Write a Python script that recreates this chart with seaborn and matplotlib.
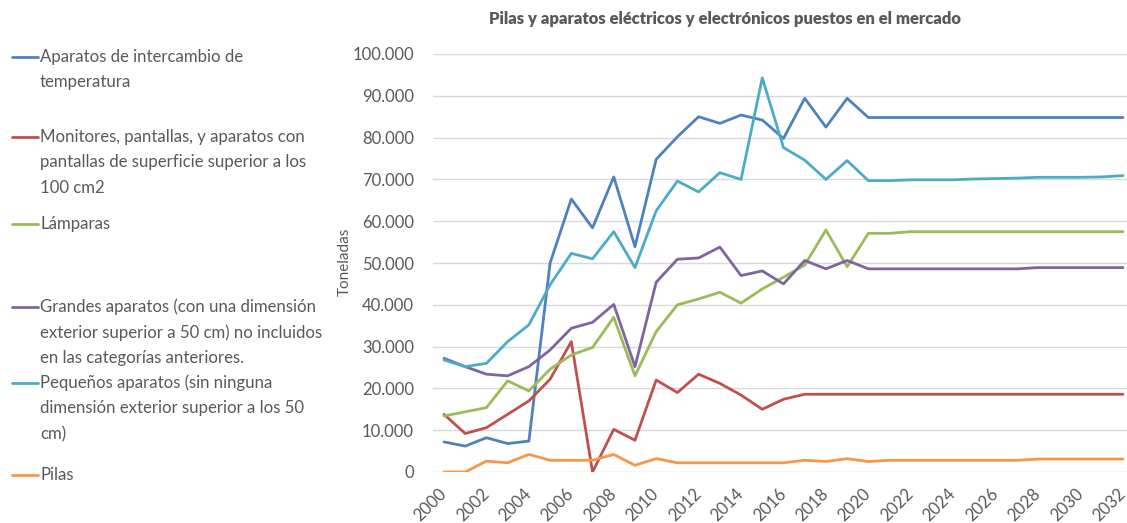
import numpy as np
import pandas as pd
import matplotlib
matplotlib.use("Agg")
import matplotlib.pyplot as plt
from matplotlib.lines import Line2D
from matplotlib.ticker import FuncFormatter, MultipleLocator
import seaborn as sns

years = list(range(2000, 2033))

temp = [7200, 6200, 8200, 6800, 7400, 50000, 65300, 58400, 70600, 53900, 74800,
        80200, 85000, 83400, 85400, 84200, 79800, 89400, 82500, 89400, 84800] + [84800] * 12
monitores = [13800, 9200, 10600, 13800, 17000, 22200, 31200, 0, 10200, 7600, 22000,
             19000, 23400, 21200, 18400, 15000, 17400, 18600] + [18600] * 15
lamparas = [13400, 14400, 15400, 21800, 19400, 24600, 28000, 29800, 37000, 23000, 33600,
            40000, 41400, 43000, 40400, 43800, 46600, 49500, 57900, 49100, 57100, 57100] + [57500] * 11
grandes = [27200, 25200, 23400, 23000, 25200, 29200, 34400, 35800, 40100, 25200, 45400,
           50900, 51200, 53800, 47000, 48100, 45000, 50600, 48600, 50600, 48600] + [48600] * 7 + [48900] * 5
pequenos = [26800, 25200, 26000, 31200, 35200, 44800, 52300, 51000, 57500, 48900, 62500,
            69600, 67000, 71600, 70000, 94300, 77600, 74600, 70000, 74500, 69700,
            69700, 69900, 69900, 69900, 70100, 70200, 70300, 70500, 70500, 70500, 70600, 70900]
pilas = [0, 0, 2600, 2200, 4200, 2800, 2800, 2800, 4200, 1600, 3200,
         2200, 2200, 2200, 2200, 2200, 2200, 2800, 2500, 3200, 2500] + [2800] * 7 + [3100] * 5

series_names = [
    "Aparatos de intercambio de temperatura",
    "Monitores, pantallas, y aparatos con pantallas de superficie superior a los 100 cm2",
    "Lámparas",
    "Grandes aparatos (con una dimensión exterior superior a 50 cm) no incluidos en las categorías anteriores.",
    "Pequeños aparatos (sin ninguna dimensión exterior superior a los 50 cm)",
    "Pilas",
]
legend_lines = [
    ["Aparatos de intercambio de", "temperatura"],
    ["Monitores, pantallas, y aparatos con", "pantallas de superficie superior a los", "100 cm2"],
    ["Lámparas"],
    ["Grandes aparatos (con una dimensión", "exterior superior a 50 cm) no incluidos", "en las categorías anteriores."],
    ["Pequeños aparatos (sin ninguna", "dimensión exterior superior a los 50", "cm)"],
    ["Pilas"],
]
colors = ["#4F81BD", "#C0504D", "#9BBB59", "#8064A2", "#4BACC6", "#F79646"]
values = [temp, monitores, lamparas, grandes, pequenos, pilas]

title = "Pilas y aparatos eléctricos y electrónicos puestos en el mercado"
ylabel = "Toneladas"

rows = []
for name, vals in zip(series_names, values):
    for y, v in zip(years, vals):
        rows.append({"Año": y, "Toneladas": v, "Categoría": name})
df = pd.DataFrame(rows)

sns.set_theme(style="white")
plt.rcParams["font.family"] = ["Lato", "DejaVu Sans"]

W, H = 1127, 523
fig = plt.figure(figsize=(W / 100, H / 100), dpi=100)
left_px, right_px, top_px, bot_px = 433.4, 1133.6, 54, 472
ax = fig.add_axes([left_px / W, (H - bot_px) / H, (right_px - left_px) / W, (bot_px - top_px) / H])

sns.lineplot(data=df, x="Año", y="Toneladas", hue="Categoría", palette=dict(zip(series_names, colors)),
             hue_order=series_names, legend=False, linewidth=2.0, ax=ax)

ax.set_xlim(1999.5, 2032.5)
ax.set_ylim(0, 100000)
ax.yaxis.set_major_locator(MultipleLocator(10000))
ax.yaxis.set_major_formatter(FuncFormatter(lambda v, p: f"{int(v):,}".replace(",", ".")))
ax.set_xticks(list(range(2000, 2033, 2)))
ax.grid(axis="y", color="#D9D9D9", linewidth=1)
ax.set_axisbelow(True)
for s in ax.spines.values():
    s.set_visible(False)
ax.tick_params(axis="both", length=0, colors="#595959", labelsize=12)
ax.tick_params(axis="y", pad=14)
for lbl in ax.get_xticklabels():
    lbl.set_rotation(45)
    lbl.set_ha("right")
    lbl.set_va("center")
    lbl.set_rotation_mode("anchor")
ax.tick_params(axis="x", pad=14)
ax.set_xlabel("")
ax.set_ylabel(ylabel, color="#595959", fontsize=11)
ax.yaxis.set_label_coords((352 - left_px) / (right_px - left_px), (bot_px - 262) / (bot_px - top_px))

fig.text(725 / W, 1 - 19 / H, title, ha="center", va="center", fontsize=12,
         fontweight="heavy", color="#595959")

first_line_y = [57, 137, 224, 307, 383, 475]
for lines, col, y0 in zip(legend_lines, colors, first_line_y):
    fig.add_artist(Line2D([12 / W, 38 / W], [1 - y0 / H, 1 - y0 / H], color=col, linewidth=2.0,
                          transform=fig.transFigure))
    for i, t in enumerate(lines):
        yy = y0 + i * 25.5
        fig.text(40 / W, 1 - yy / H, t, ha="left", va="center", fontsize=12.1, color="#595959")

fig.savefig("out.png", dpi=100)
